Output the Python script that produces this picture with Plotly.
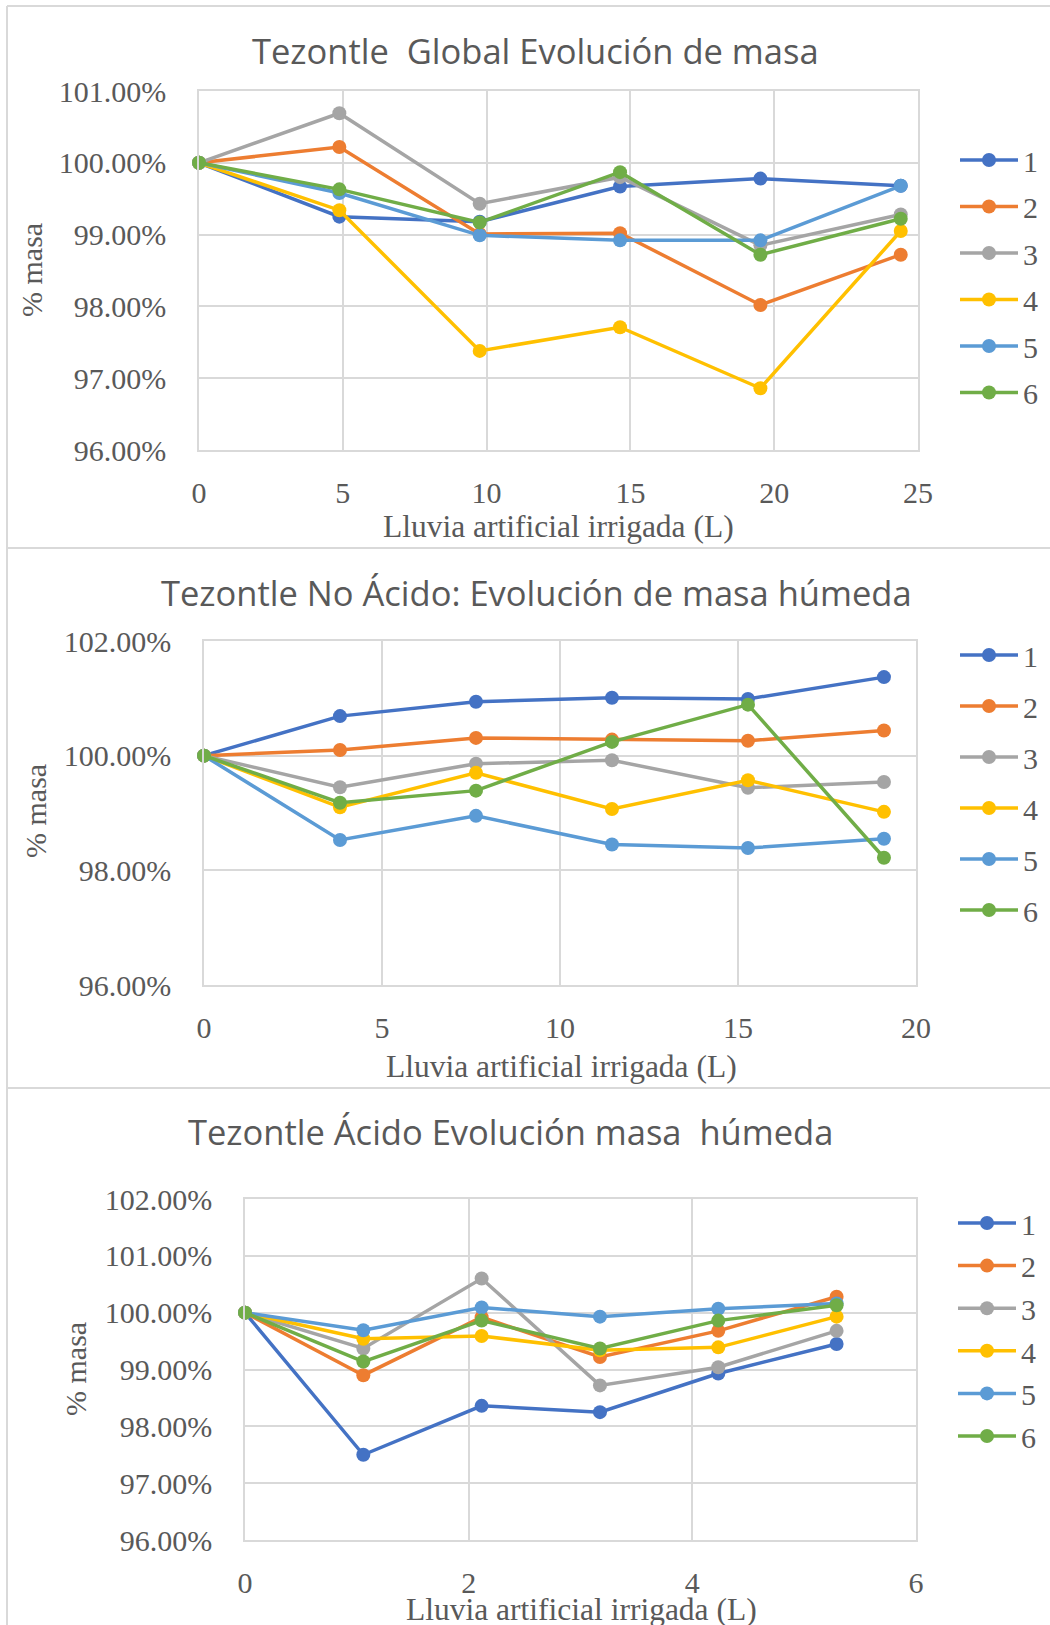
import plotly.graph_objects as go

W, H = 1050, 1625

# ---- Panel 1: Tezontle global ----
lluvia_global = [0, 4.88, 9.76, 14.64, 19.52, 24.4]
global_1 = [100.00, 99.25, 99.18, 99.67, 99.78, 99.68]
global_2 = [100.00, 100.22, 99.01, 99.02, 98.02, 98.72]
global_3 = [100.00, 100.69, 99.43, 99.80, 98.85, 99.28]
global_4 = [100.00, 99.34, 97.38, 97.71, 96.86, 99.05]
global_5 = [100.00, 99.58, 98.99, 98.92, 98.92, 99.68]
global_6 = [100.00, 99.63, 99.17, 99.87, 98.72, 99.22]

# ---- Panel 2: Tezontle no acido ----
lluvia_no_acido = [0, 3.82, 7.64, 11.46, 15.28, 19.1]
no_acido_1 = [100.00, 100.69, 100.94, 101.01, 100.99, 101.37]
no_acido_2 = [100.00, 100.10, 100.31, 100.28, 100.26, 100.44]
no_acido_3 = [100.00, 99.45, 99.86, 99.92, 99.44, 99.54]
no_acido_4 = [100.00, 99.10, 99.70, 99.07, 99.57, 99.02]
no_acido_5 = [100.00, 98.53, 98.95, 98.45, 98.39, 98.55]
no_acido_6 = [100.00, 99.18, 99.39, 100.24, 100.89, 98.22]

# ---- Panel 3: Tezontle acido ----
lluvia_acido = [0, 1.058, 2.116, 3.174, 4.232, 5.29]
acido_1 = [100.00, 97.50, 98.36, 98.25, 98.93, 99.45]
acido_2 = [100.00, 98.90, 99.92, 99.22, 99.68, 100.28]
acido_3 = [100.00, 99.37, 100.60, 98.72, 99.04, 99.68]
acido_4 = [100.00, 99.54, 99.59, 99.34, 99.39, 99.93]
acido_5 = [100.00, 99.69, 100.09, 99.93, 100.07, 100.16]
acido_6 = [100.00, 99.14, 99.86, 99.37, 99.86, 100.13]

series_names = ["1", "2", "3", "4", "5", "6"]
colors = ["#4472C4", "#ED7D31", "#A5A5A5", "#FFC000", "#5B9BD5", "#70AD47"]

titles = [
    "Tezontle  Global Evolución de masa",
    "Tezontle No Ácido: Evolución de masa húmeda",
    "Tezontle Ácido Evolución masa  húmeda",
]
x_title = "Lluvia artificial irrigada (L)"
y_title = "% masa"

TEXT = "#595959"
GRID = "#d9d9d9"
SERIF = "Liberation Serif"
SANS = "Open Sans"


def px(x):
    return x / W


def py(y):
    return 1 - y / H


panels = [
    dict(x=lluvia_global,
         ys=[global_1, global_2, global_3, global_4, global_5, global_6],
         plot=(199, 918, 91, 450), xr=[0, 25], xd=5, yr=[96, 101], yd=1,
         title=(535, 51), xt=(558, 526), yt=(32, 270),
         leg=(955, 134), gap=4.5),
    dict(x=lluvia_no_acido,
         ys=[no_acido_1, no_acido_2, no_acido_3, no_acido_4, no_acido_5, no_acido_6],
         plot=(204, 916, 641, 985), xr=[0, 20], xd=5, yr=[96, 102], yd=2,
         title=(536, 592), xt=(561, 1066), yt=(35, 811),
         leg=(955, 629), gap=9),
    dict(x=lluvia_acido,
         ys=[acido_1, acido_2, acido_3, acido_4, acido_5, acido_6],
         plot=(245, 916, 1199, 1540), xr=[0, 6], xd=2, yr=[96, 102], yd=1,
         title=(510, 1131), xt=(581, 1609), yt=(75, 1369),
         leg=(953, 1197), gap=0.6),
]

fig = go.Figure()
annotations = []
layout = {}

for p, panel in enumerate(panels):
    sfx = "" if p == 0 else str(p + 1)
    leg_name = "legend" + sfx
    for i, ys in enumerate(panel["ys"]):
        fig.add_trace(go.Scatter(
            x=panel["x"], y=ys, name=series_names[i],
            mode="lines+markers",
            line=dict(color=colors[i], width=3.5),
            marker=dict(color=colors[i], size=14),
            cliponaxis=False,
            xaxis="x" + sfx, yaxis="y" + sfx,
            legend=leg_name, legendgroup=f"p{p}s{i}",
        ))

    x0, x1, y0, y1 = panel["plot"]
    axis_common = dict(
        showgrid=True, gridcolor=GRID, gridwidth=1.5,
        showline=True, mirror=True, linecolor=GRID, linewidth=1.5,
        zeroline=False, ticks="outside", tickcolor="rgba(0,0,0,0)",
        tickfont=dict(family=SERIF, size=30, color=TEXT),
    )
    layout["xaxis" + sfx] = dict(
        domain=[px(x0), px(x1)], anchor="y" + sfx,
        range=panel["xr"], dtick=panel["xd"], tick0=0, ticklen=15,
        **axis_common)
    layout["yaxis" + sfx] = dict(
        domain=[py(y1), py(y0)], anchor="x" + sfx,
        range=panel["yr"], dtick=panel["yd"], tick0=0, ticklen=25,
        tickformat=".2f", ticksuffix="%",
        **axis_common)

    lx, ly = panel["leg"]
    layout[leg_name] = dict(
        x=px(lx), y=py(ly), xanchor="left", yanchor="top",
        bgcolor="rgba(0,0,0,0)", tracegroupgap=panel["gap"], itemwidth=58,
        font=dict(family=SERIF, size=30, color=TEXT),
    )

    tx, ty = panel["title"]
    annotations.append(dict(
        text=titles[p], x=px(tx), y=py(ty), xref="paper", yref="paper",
        xanchor="center", yanchor="middle", showarrow=False,
        font=dict(family=SANS, size=34.5, color=TEXT)))
    ax_, ay_ = panel["xt"]
    annotations.append(dict(
        text=x_title, x=px(ax_), y=py(ay_), xref="paper", yref="paper",
        xanchor="center", yanchor="middle", showarrow=False,
        font=dict(family=SERIF, size=31.5, color=TEXT)))
    bx, by = panel["yt"]
    annotations.append(dict(
        text=y_title, x=px(bx), y=py(by), xref="paper", yref="paper",
        xanchor="center", yanchor="middle", showarrow=False, textangle=-90,
        font=dict(family=SERIF, size=30, color=TEXT)))

# chart-area frames around the three panels
border = dict(type="line", xref="paper", yref="paper",
              line=dict(color=GRID, width=2))
shapes = [
    dict(border, x0=px(7), x1=px(7), y0=py(6), y1=py(H)),
    dict(border, x0=px(7), x1=px(W + 10), y0=py(6), y1=py(6)),
    dict(border, x0=px(7), x1=px(W + 10), y0=py(548), y1=py(548)),
    dict(border, x0=px(7), x1=px(W + 10), y0=py(1088), y1=py(1088)),
]

fig.update_layout(
    width=W, height=H,
    margin=dict(l=0, r=0, t=0, b=0, autoexpand=False),
    paper_bgcolor="white", plot_bgcolor="white",
    showlegend=True,
    annotations=annotations,
    shapes=shapes,
    **layout,
)

fig.write_html("out.html")
